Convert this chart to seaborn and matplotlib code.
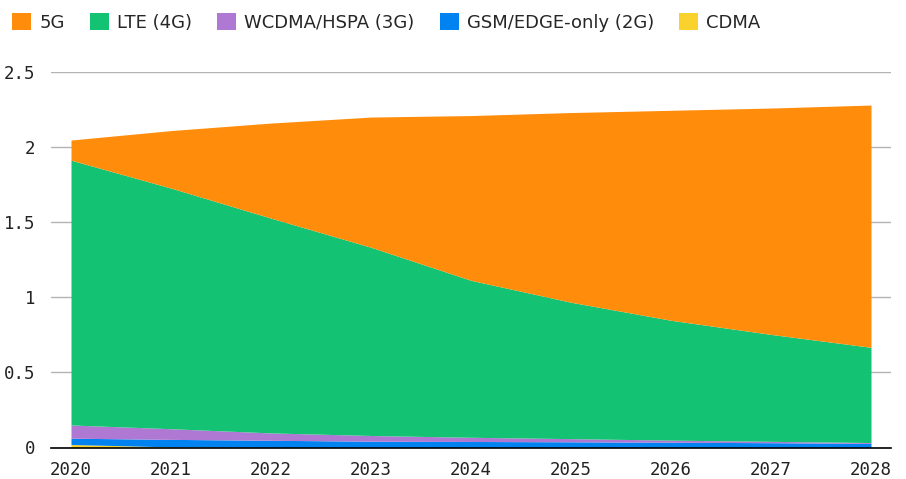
import matplotlib
matplotlib.use('Agg')
import matplotlib.pyplot as plt
from matplotlib.patches import Patch
import seaborn as sns

# Data (billions of subscriptions)
years = [2020, 2021, 2022, 2023, 2024, 2025, 2026, 2027, 2028]
cdma = [0.020, 0.004, 0.001, 0.0, 0.0, 0.0, 0.0, 0.0, 0.0]
gsm = [0.042, 0.050, 0.047, 0.042, 0.040, 0.038, 0.035, 0.032, 0.027]
wcdma = [0.088, 0.071, 0.049, 0.038, 0.028, 0.021, 0.014, 0.009, 0.006]
lte = [1.763, 1.602, 1.430, 1.253, 1.045, 0.908, 0.798, 0.712, 0.634]
nr = [0.134, 0.383, 0.633, 0.867, 1.097, 1.263, 1.398, 1.507, 1.613]

labels = ['5G', 'LTE (4G)', 'WCDMA/HSPA (3G)', 'GSM/EDGE-only (2G)', 'CDMA']
colors = ['#FF8C0A', '#13C373', '#AF78D2', '#0082F0', '#FAD22D']
yticks = [0, 0.5, 1, 1.5, 2, 2.5]
ytick_labels = ['0', '0.5', '1', '1.5', '2', '2.5']

sns.set_theme(style='white')
plt.rcParams['font.family'] = ['DejaVu Sans Mono']

fig = plt.figure(figsize=(9.06, 4.79), dpi=100)
ax = fig.add_axes([51 / 906, 31.5 / 479, 840 / 906, 375.5 / 479])

# stack from bottom: CDMA, GSM, WCDMA, LTE, 5G
ax.stackplot(years, cdma, gsm, wcdma, lte, nr,
             colors=colors[::-1], linewidth=0, zorder=2)

ax.set_xlim(2019.8, 2028.2)
ax.set_ylim(0, 2.5)
ax.set_yticks(yticks)
ax.set_yticklabels(ytick_labels)
ax.set_xticks(years)
ax.grid(axis='y', color='#b3b3b3', linewidth=1, zorder=0)
ax.grid(axis='x', visible=False)
for s in ['top', 'right', 'left']:
    ax.spines[s].set_visible(False)
ax.spines['bottom'].set_color('black')
ax.spines['bottom'].set_linewidth(1.2)
ax.spines['bottom'].set_zorder(3)
ax.tick_params(axis='both', length=0, labelsize=12.5, colors='#222222')
ax.tick_params(axis='y', pad=11)
ax.tick_params(axis='x', pad=9.5)

handles = [Patch(facecolor=c, edgecolor='none') for c in colors]
fig.legend(handles, labels, loc='upper left', bbox_to_anchor=(12 / 906, 1 - 13 / 479),
           ncol=5, frameon=False, borderpad=0, borderaxespad=0,
           handlelength=1.05, handleheight=1.05,
           handletextpad=0.45, columnspacing=1.4,
           prop={'family': ['DejaVu Sans'], 'size': 13})

fig.savefig('out.png', dpi=100)
